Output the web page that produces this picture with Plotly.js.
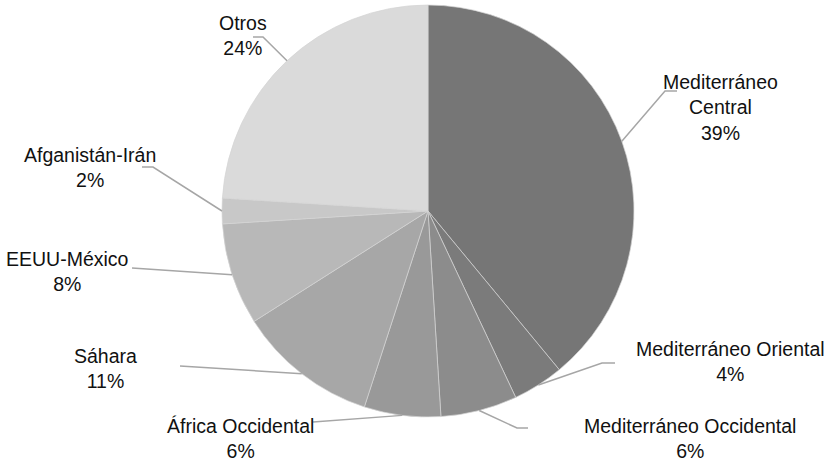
<!DOCTYPE html>
<html>
<head>
<meta charset="utf-8">
<script src="https://cdn.plot.ly/plotly-3.0.1.min.js"></script>
<style>html,body{margin:0;padding:0;background:#fff;}#chart{width:829px;height:464px;}</style>
</head>
<body>
<div id="chart"></div>
<script>
// ---- data ----
const categories = ["Mediterráneo Central", "Mediterráneo Oriental", "Mediterráneo Occidental", "África Occidental", "Sáhara", "EEUU-México", "Afganistán-Irán", "Otros"];
const labelLines = ["Mediterráneo<br>Central", "Mediterráneo Oriental", "Mediterráneo Occidental", "África Occidental", "Sáhara", "EEUU-México", "Afganistán-Irán", "Otros"];
const shares = [39, 4, 6, 6, 11, 8, 2, 24];
const percentLabels = ["39%", "4%", "6%", "6%", "11%", "8%", "2%", "24%"];

// ---- styling / layout ----
const W = 829, H = 464;
const CX = 428, CY = 211, R = 206;
const colors = ["#767676", "#7b7b7b", "#8c8c8c", "#999999", "#a7a7a7", "#b8b8b8", "#c8c8c8", "#dadada"];
// label centre positions (px) and leader-line elbow / end (px)
const labelPos = [[720,108],[730,361],[690,438],[240,438],[105,368],[67,271],[90,168],[243,35]];
const elbowPos = [[665,91],[602,363],[517,428],[313,422],[180,366],[132,268],[153,167],[263,37]];
const endPos   = [[677,91],[615,363],[528,428],[313,422],[180,366],[132,268],[142,167],[253,37]];

const px = x => x / W;
const py = y => 1 - y / H;
const FONT = "'Liberation Sans', Arial, sans-serif";

const total = shares.reduce((a,b)=>a+b,0);
let cum = 0;
const annotations = [], shapes = [];
shares.forEach((v, i) => {
  const mid = (cum + v/2) / total * 2 * Math.PI;
  cum += v;
  const ex = CX + R * Math.sin(mid), ey = CY - R * Math.cos(mid);
  shapes.push({
    type: 'path', xref: 'paper', yref: 'paper',
    path: `M ${px(ex)},${py(ey)} L ${px(elbowPos[i][0])},${py(elbowPos[i][1])} L ${px(endPos[i][0])},${py(endPos[i][1])}`,
    line: {color: '#a6a6a6', width: 1.5}
  });
  annotations.push({
    xref: 'paper', yref: 'paper', x: px(labelPos[i][0]), y: py(labelPos[i][1]),
    xanchor: 'center', yanchor: 'middle', align: 'center', showarrow: false,
    text: labelLines[i] + '<br>' + percentLabels[i],
    font: {family: FONT, size: 19.5, color: '#111111'}
  });
});

const trace = {
  type: 'pie',
  labels: categories,
  values: shares,
  sort: false,
  direction: 'clockwise',
  rotation: 0,
  textinfo: 'none',
  hoverinfo: 'none',
  showlegend: false,
  marker: {colors: colors, line: {color: '#d4d4d4', width: 0.7}},
  domain: {x: [(CX - R) / W, (CX + R) / W], y: [(H - CY - R) / H, (H - CY + R) / H]}
};

const layout = {
  width: W, height: H,
  margin: {l: 0, r: 0, t: 0, b: 0},
  paper_bgcolor: '#ffffff',
  showlegend: false,
  annotations: annotations,
  shapes: shapes
};

Plotly.newPlot('chart', [trace], layout, {displayModeBar: false, staticPlot: true});
</script>
</body>
</html>
